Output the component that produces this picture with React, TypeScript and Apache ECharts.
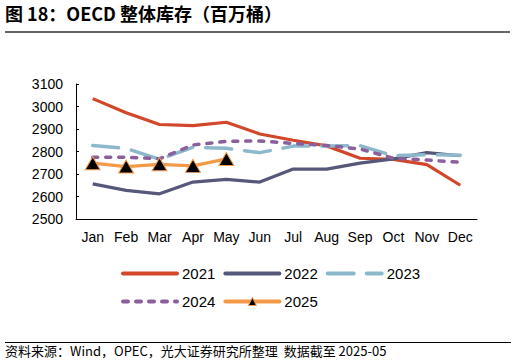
import React, { useEffect, useRef } from "react";
import * as echarts from "echarts";

const months = ["Jan", "Feb", "Mar", "Apr", "May", "Jun", "Jul", "Aug", "Sep", "Oct", "Nov", "Dec"];
const y2021 = [3035, 2972, 2920, 2915, 2930, 2878, 2850, 2825, 2770, 2765, 2742, 2650];
const y2022 = [2656, 2627, 2612, 2664, 2676, 2664, 2722, 2722, 2748, 2767, 2795, 2781];
const y2023 = [2827, 2814, 2765, 2819, 2814, 2795, 2824, 2824, 2826, 2781, 2786, 2783];
const y2024 = [2774, 2774, 2768, 2829, 2845, 2847, 2836, 2827, 2811, 2770, 2762, 2752];
const y2025 = [2748, 2733, 2743, 2736, 2767];
const yTicks = { min: 2500, max: 3100, interval: 100 };

const titleText = "图 18：OECD 整体库存（百万桶）";
const sourceText = "资料来源：Wind，OPEC，光大证券研究所整理  数据截至 2025-05";

export default function App() {
  const ref = useRef<HTMLDivElement>(null);
  useEffect(() => {
    if (!ref.current) return;
    const chart = echarts.init(ref.current, undefined, { renderer: "svg" });
    const font = "'Liberation Sans', Arial, sans-serif";
    const hideSym = { opacity: 0 };
    const legendCommon = {
      left: 116,
      itemWidth: 54,
      itemHeight: 10,
      itemGap: 8,
      lineStyle: { width: 4, cap: "round" },
      textStyle: { fontSize: 15, color: "#000", fontFamily: font },
    };
    chart.setOption({
      animation: false,
      backgroundColor: "#ffffff",
      textStyle: { fontFamily: font },
      grid: { left: 76, right: 39, top: 84, bottom: 145, containLabel: false },
      xAxis: {
        type: "category",
        data: months,
        boundaryGap: true,
        axisLine: { lineStyle: { color: "#000", width: 1 } },
        axisTick: { inside: true, length: 5, lineStyle: { color: "#000" } },
        axisLabel: { color: "#000", fontSize: 14, margin: 11, interval: 0, fontFamily: font },
      },
      yAxis: {
        type: "value",
        min: yTicks.min,
        max: yTicks.max,
        interval: yTicks.interval,
        axisLine: { show: true, lineStyle: { color: "#000", width: 1 } },
        axisTick: { show: true, inside: true, length: 3, lineStyle: { color: "#000" } },
        splitLine: { show: false },
        axisLabel: {
          color: "#000",
          fontSize: 14,
          margin: 13,
          fontFamily: font,
          formatter: (v: number) => String(v),
        },
      },
      legend: [
        {
          ...legendCommon,
          data: [
            { name: "2021", itemStyle: hideSym },
            { name: "2022", itemStyle: hideSym },
            { name: "2023", itemStyle: hideSym },
          ],
          top: 261,
        },
        {
          ...legendCommon,
          data: [
            { name: "2024", itemStyle: hideSym },
            { name: "2025", itemStyle: { color: "#000", borderColor: "#F39A48", borderWidth: 1 } },
          ],
          top: 289,
        },
      ],
      series: [
        {
          name: "2021",
          type: "line",
          data: y2021,
          symbol: "none",
          lineStyle: { color: "#D2462A", width: 3.2 },
          itemStyle: { color: "#D2462A" },
        },
        {
          name: "2022",
          type: "line",
          data: y2022,
          symbol: "none",
          lineStyle: { color: "#56587A", width: 3.2 },
          itemStyle: { color: "#56587A" },
        },
        {
          name: "2023",
          type: "line",
          data: y2023,
          symbol: "none",
          lineStyle: { color: "#8DB8CC", width: 3.5, type: [26, 13], cap: "round" },
          itemStyle: { color: "#8DB8CC" },
        },
        {
          name: "2024",
          type: "line",
          data: y2024,
          symbol: "none",
          lineStyle: { color: "#8B5E9C", width: 3.5, type: [5, 8], cap: "round" },
          itemStyle: { color: "#8B5E9C" },
        },
        {
          name: "2025",
          type: "line",
          data: y2025,
          symbol: "triangle",
          symbolSize: [15, 13],
          lineStyle: { color: "#F39A48", width: 3.2 },
          itemStyle: { color: "#000000", borderColor: "#F39A48", borderWidth: 1 },
          z: 5,
        },
      ],
      graphic: [
        {
          type: "text",
          left: 5,
          top: 4,
          style: {
            text: titleText,
            fontSize: 18,
            fontWeight: "bold",
            fill: "#000",
            fontFamily: "'Noto Sans CJK SC', sans-serif",
          },
        },
        {
          type: "line",
          shape: { x1: 5, y1: 32, x2: 510, y2: 32 },
          style: { stroke: "#333", lineWidth: 1.5 },
        },
        {
          type: "line",
          shape: { x1: 5, y1: 342.5, x2: 511, y2: 342.5 },
          style: { stroke: "#000", lineWidth: 1 },
        },
        {
          type: "text",
          left: 5,
          top: 344,
          style: {
            text: sourceText,
            fontSize: 13,
            fill: "#000",
            fontFamily: "'Noto Sans CJK SC', sans-serif",
          },
        },
      ],
    });
    return () => chart.dispose();
  }, []);
  return <div ref={ref} style={{ width: 516, height: 364, position: "absolute", left: 0, top: 0 }} />;
}
